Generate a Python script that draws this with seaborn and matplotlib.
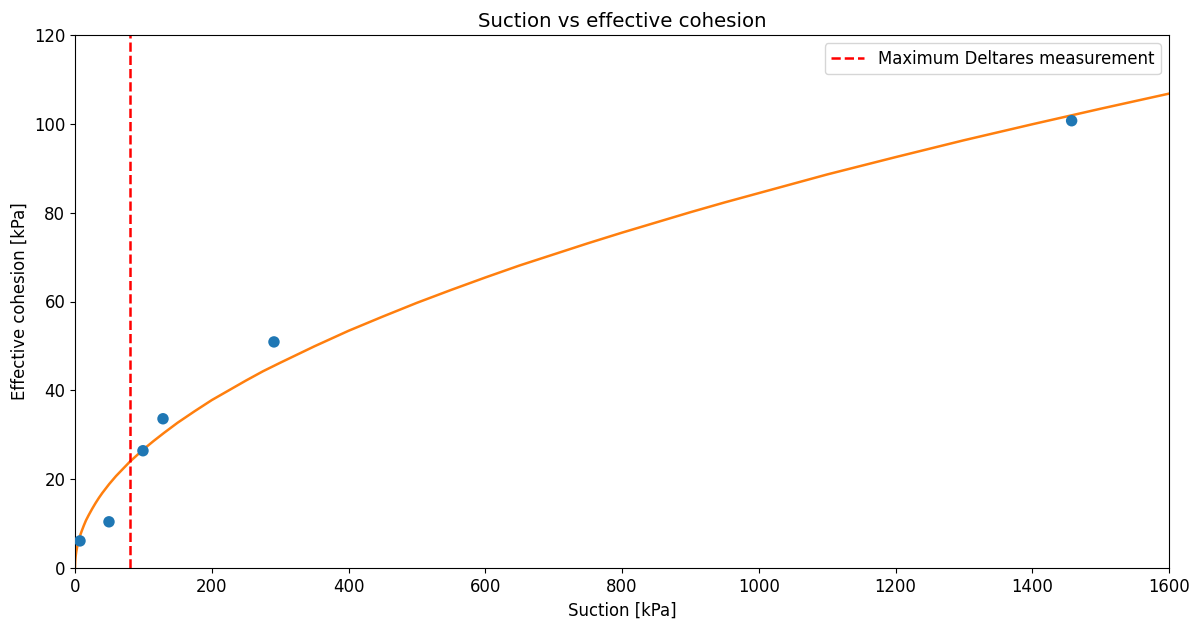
import numpy as np
import pandas as pd
import matplotlib
matplotlib.use("Agg")
import matplotlib.pyplot as plt
import seaborn as sns

# Measured points
suction_pts = [7.3, 49.7, 99.4, 128.7, 291, 1457.6]
cohesion_pts = [6.1, 10.4, 26.4, 33.6, 50.9, 100.7]

# Fitted curve
curve_suction = [0, 0.25, 0.5, 1, 2, 3, 4, 5, 7, 10, 13, 16, 20, 25, 30, 35, 40, 50, 60,
                 70, 80, 90, 100, 115, 130, 150, 175, 200, 225, 250, 275, 300, 350, 400,
                 450, 500, 550, 600, 650, 700, 750, 800, 850, 900, 950, 1000, 1100, 1200,
                 1300, 1400, 1500, 1600]
curve_cohesion = [0, 1.3, 1.9, 2.7, 3.8, 4.6, 5.3, 6.0, 7.1, 8.4, 9.6, 10.7, 11.9, 13.3,
                  14.6, 15.8, 16.9, 18.9, 20.7, 22.3, 23.9, 25.3, 26.7, 28.6, 30.4, 32.7,
                  35.3, 37.8, 40.0, 42.2, 44.3, 46.2, 49.9, 53.4, 56.6, 59.7, 62.6, 65.4,
                  68.1, 70.6, 73.1, 75.5, 77.8, 80.1, 82.3, 84.4, 88.6, 92.5, 96.3, 99.9,
                  103.4, 106.8]

deltares_max = 80

pts = pd.DataFrame({"s": suction_pts, "c": cohesion_pts})
crv = pd.DataFrame({"s": curve_suction, "c": curve_cohesion})

plt.rcParams["font.family"] = ["DejaVu Sans"]
plt.rcParams["font.size"] = 11.9

fig = plt.figure(figsize=(11.99, 6.21), dpi=100)
ax = fig.add_axes([75/1199, 1-568/621, (1169-75)/1199, (568-35)/621])

sns.scatterplot(data=pts, x="s", y="c", ax=ax, color="#1f77b4", s=68,
                edgecolor="none", zorder=3)
sns.lineplot(data=crv, x="s", y="c", ax=ax, color="#ff7f0e", linewidth=1.8,
             estimator=None, sort=False, zorder=2)
ax.axvline(deltares_max, color="red", linestyle="--", linewidth=1.8,
           label="Maximum Deltares measurement")

ax.set_xlim(0, 1600)
ax.set_ylim(0, 120)
ax.set_xlabel("Suction [kPa]")
ax.set_ylabel("Effective cohesion [kPa]")
ax.set_title("Suction vs effective cohesion", fontsize=14.2)
ax.legend(loc="upper right")

fig.savefig("out.png", dpi=100)
